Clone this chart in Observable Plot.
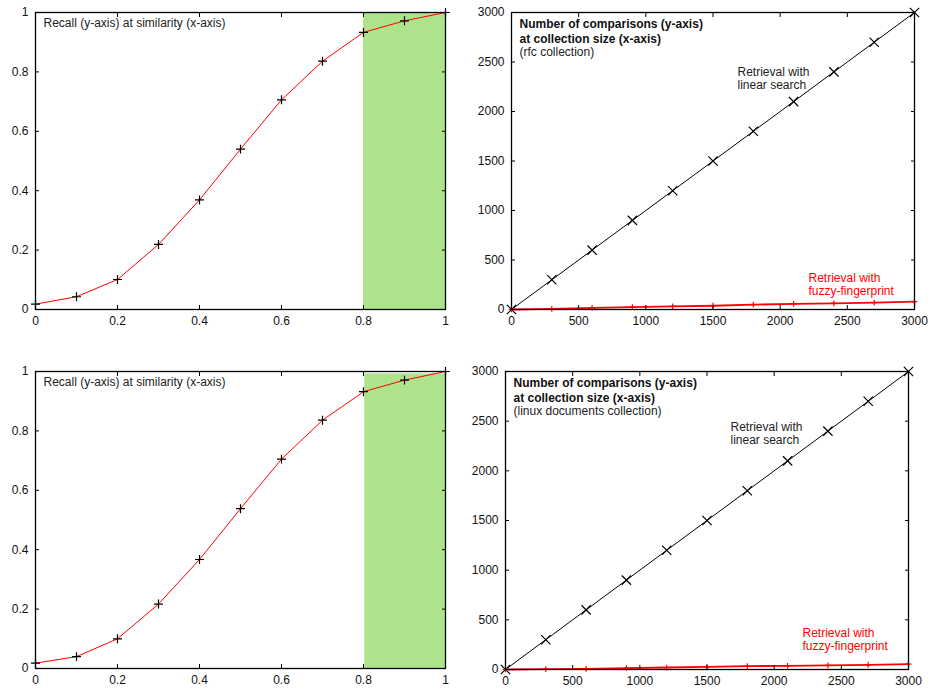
<!DOCTYPE html>
<html>
<head>
<meta charset="utf-8">
<script src="https://cdn.jsdelivr.net/npm/d3@7"></script>
<script src="https://cdn.jsdelivr.net/npm/@observablehq/plot@0.6"></script>
<style>
  html, body { margin: 0; padding: 0; background: #fff; }
  #wrap { position: relative; width: 929px; height: 690px; }
  #wrap > div { position: absolute; }
</style>
</head>
<body>
<div id="wrap">
  <div id="p1" style="left:0px;top:0px"></div>
  <div id="p2" style="left:465px;top:0px"></div>
  <div id="p3" style="left:0px;top:355px"></div>
  <div id="p4" style="left:465px;top:355px"></div>
</div>
<script>
// ---- data ----
const similarity = [0, 0.1, 0.2, 0.3, 0.4, 0.5, 0.6, 0.7, 0.8, 0.9, 1.0];
const recallTop = [0.018, 0.043, 0.101, 0.219, 0.369, 0.540, 0.706, 0.836, 0.933, 0.972, 1.0];
const recallBottom = [0.018, 0.040, 0.100, 0.217, 0.367, 0.538, 0.705, 0.836, 0.932, 0.971, 1.0];
const highlightTop = {x1: 0.8, x2: 1.0, y1: 0, y2: 1.0};
const highlightBottom = {x1: 0.803, x2: 1.0, y1: 0, y2: 0.992};

const collectionSize = [0, 300, 600, 900, 1200, 1500, 1800, 2100, 2400, 2700, 3000];
const linearSearch = [0, 300, 600, 900, 1200, 1500, 1800, 2100, 2400, 2700, 3000];
const fuzzyRfc = [0, 7, 16, 25, 32, 38, 49, 56, 62, 70, 80];
const fuzzyLinux = [0, 3, 7, 13, 20, 27, 34, 37, 41, 47, 54];

const recallTicks = [0, 0.2, 0.4, 0.6, 0.8, 1];
const countTicks = [0, 500, 1000, 1500, 2000, 2500, 3000];

const recallTitle = "Recall (y-axis) at similarity (x-axis)";
const countTitle = "Number of comparisons (y-axis)\nat collection size (x-axis)";
const rfcSub = "(rfc collection)";
const linuxSub = "(linux documents collection)";
const linearLabel = "Retrieval with\nlinear search";
const fuzzyLabel = "Retrieval with\nfuzzy-fingerprint";

const FONT = "'Liberation Sans', Arial, Helvetica, sans-serif";
const GREEN = "#ade38b";

function gnuAxes(xt, yt) {
  return [
    Plot.axisX(xt, {anchor: "bottom", tickSize: 0, tickPadding: 7, tickFormat: d => String(d), fill: "#111", label: null}),
    Plot.axisX(xt, {anchor: "bottom", tickSize: -4, tickFormat: () => "", label: null}),
    Plot.axisX(xt, {anchor: "top", tickSize: -4, tickFormat: () => "", label: null}),
    Plot.axisY(yt, {anchor: "left", tickSize: 0, tickPadding: 7, tickFormat: d => String(d), fill: "#111", label: null}),
    Plot.axisY(yt, {anchor: "left", tickSize: -4, tickFormat: () => "", label: null}),
    Plot.axisY(yt, {anchor: "right", tickSize: -4, tickFormat: () => "", label: null})
  ];
}

function recallPlot(values, hl, m) {
  const data = similarity.map((s, i) => ({s, r: values[i]}));
  return Plot.plot({
    width: 465, height: 335,
    marginLeft: 35, marginRight: 20, marginTop: m.top, marginBottom: m.bottom,
    style: {fontFamily: FONT, fontSize: "12px", overflow: "visible", background: "transparent"},
    x: {domain: [0, 1], axis: null},
    y: {domain: [0, 1], axis: null},
    marks: [
      Plot.rect([hl], {x1: "x1", x2: "x2", y1: "y1", y2: "y2", fill: GREEN}),
      Plot.line(data, {x: "s", y: "r", stroke: "#ff0000", strokeWidth: 1}),
      Plot.dot(data, {x: "s", y: "r", symbol: "plus", r: 3, stroke: "#000", strokeWidth: 1.2}),
      Plot.frame({stroke: "#000", strokeWidth: 1.3}),
      ...gnuAxes(recallTicks, recallTicks),
      Plot.text([recallTitle], {frameAnchor: "top-left", dx: 8, dy: 6, textAnchor: "start", lineAnchor: "top", fill: "#222", fontSize: 12})
    ]
  });
}

function countPlot(fuzzy, sub, m, lab) {
  const data = collectionSize.map((c, i) => ({c, lin: linearSearch[i], fz: fuzzy[i]}));
  return Plot.plot({
    width: 464, height: 335,
    marginLeft: m.left, marginRight: m.right, marginTop: m.top, marginBottom: m.bottom,
    style: {fontFamily: FONT, fontSize: "12px", overflow: "visible", background: "transparent"},
    x: {domain: [0, 3000], axis: null},
    y: {domain: [0, 3000], axis: null},
    marks: [
      Plot.line(data, {x: "c", y: "lin", stroke: "#000", strokeWidth: 1}),
      Plot.dot(data, {x: "c", y: "lin", symbol: "times", r: 4.3, stroke: "#000", strokeWidth: 1.2}),
      Plot.line(data, {x: "c", y: "fz", stroke: "#ff0000", strokeWidth: 1.8}),
      Plot.dot(data, {x: "c", y: "fz", symbol: "plus", r: 2, stroke: "#ff0000", strokeWidth: 1.2}),
      Plot.frame({stroke: "#000", strokeWidth: 1.3}),
      ...gnuAxes(countTicks, countTicks),
      Plot.text([countTitle], {frameAnchor: "top-left", dx: 8, dy: 5, textAnchor: "start", lineAnchor: "top", fontWeight: "bold", fill: "#111", fontSize: 12, lineHeight: 1.25}),
      Plot.text([sub], {frameAnchor: "top-left", dx: 8, dy: 35, textAnchor: "start", lineAnchor: "top", fill: "#222", fontSize: 12}),
      Plot.text([linearLabel], {frameAnchor: "top-left", dx: lab.lx, dy: lab.ly, textAnchor: "start", lineAnchor: "top", fill: "#222", fontSize: 12, lineHeight: 1.1}),
      Plot.text([fuzzyLabel], {frameAnchor: "top-left", dx: lab.fx, dy: lab.fy, textAnchor: "start", lineAnchor: "top", fill: "#ff0000", fontSize: 12, lineHeight: 1.1})
    ]
  });
}

document.getElementById("p1").append(recallPlot(recallTop, highlightTop, {top: 12, bottom: 26}));
document.getElementById("p2").append(countPlot(fuzzyRfc, rfcSub, {left: 46, right: 15, top: 12, bottom: 26}, {lx: 226, ly: 54, fx: 297, fy: 260}));
document.getElementById("p3").append(recallPlot(recallBottom, highlightBottom, {top: 16, bottom: 22}));
document.getElementById("p4").append(countPlot(fuzzyLinux, linuxSub, {left: 40, right: 21, top: 16, bottom: 21}, {lx: 225, ly: 50, fx: 297, fy: 256}));
</script>
</body>
</html>
